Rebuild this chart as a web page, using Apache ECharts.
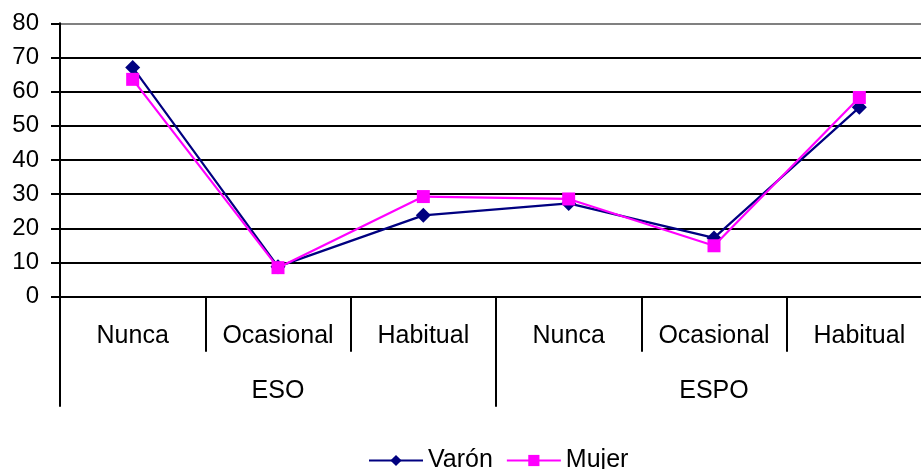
<!DOCTYPE html>
<html>
<head>
<meta charset="utf-8">
<script src="https://cdn.jsdelivr.net/npm/echarts@6/dist/echarts.min.js"></script>
<style>
  html, body { margin: 0; padding: 0; background: #fff; overflow: hidden; }
  /* plot area runs slightly past the right edge of the window */
  #chart { width: 940px; height: 469px; }
</style>
</head>
<body>
<div id="chart"></div>
<script>
// Frequency categories, grouped by school level
const categories = ['Nunca', 'Ocasional', 'Habitual', 'Nunca', 'Ocasional', 'Habitual'];
const groups = ['ESO', 'ESPO'];
const yTicks = [0, 10, 20, 30, 40, 50, 60, 70, 80];

// Percentages by sex
const varon = [67.1, 8.8, 23.8, 27.3, 17.2, 55.4];
const mujer = [63.6, 8.5, 29.3, 28.6, 14.9, 58.3];

const FONT = '"Liberation Sans", Arial, sans-serif';
const chart = echarts.init(document.getElementById('chart'), null, { renderer: 'canvas' });

// One colour per horizontal gridline, from 0 up to 80 (top border is grey)
const gridColors = yTicks.map((v, i) => (i === yTicks.length - 1 ? '#808080' : '#000000'));

chart.setOption({
  animation: false,
  backgroundColor: '#ffffff',
  grid: { left: 60, top: 23.3, width: 872, height: 273.4, containLabel: false },
  legend: {
    data: ['Varón', 'Mujer'],
    left: 363,
    top: 443,
    itemWidth: 54,
    itemHeight: 14,
    itemGap: 13,
    textStyle: { fontFamily: FONT, fontSize: 25, color: '#000' }
  },
  xAxis: [
    {
      type: 'category',
      data: categories,
      position: 'bottom',
      boundaryGap: true,
      axisLine: { show: true, lineStyle: { color: '#000', width: 2 } },
      axisTick: { show: true, interval: 0, length: 55, lineStyle: { color: '#000', width: 2 } },
      axisLabel: { interval: 0, margin: 27, fontFamily: FONT, fontSize: 25, color: '#000' },
      splitLine: { show: false }
    },
    {
      type: 'category',
      data: groups,
      position: 'bottom',
      boundaryGap: true,
      axisLine: { show: false },
      axisTick: { show: true, interval: 0, length: 110, lineStyle: { color: '#000', width: 2 } },
      axisLabel: { interval: 0, margin: 82, fontFamily: FONT, fontSize: 25, color: '#000' },
      splitLine: { show: false }
    }
  ],
  yAxis: {
    type: 'value',
    min: 0,
    max: 80,
    interval: 10,
    axisLine: { show: true, lineStyle: { color: '#000', width: 2 } },
    axisTick: { show: true, length: 9, lineStyle: { color: '#000', width: 2 } },
    axisLabel: { margin: 21, fontFamily: FONT, fontSize: 24, color: '#000' },
    splitLine: { show: true, lineStyle: { color: gridColors, width: 2 } }
  },
  series: [
    {
      name: 'Varón',
      type: 'line',
      xAxisIndex: 0,
      data: varon,
      symbol: 'diamond',
      symbolSize: 15,
      color: '#000080',
      lineStyle: { color: '#000080', width: 2.2 },
      itemStyle: { color: '#000080' },
      z: 3
    },
    {
      name: 'Mujer',
      type: 'line',
      xAxisIndex: 0,
      data: mujer,
      symbol: 'rect',
      symbolSize: 13,
      color: '#ff00ff',
      lineStyle: { color: '#ff00ff', width: 2.2 },
      itemStyle: { color: '#ff00ff' },
      z: 4
    }
  ]
});
</script>
</body>
</html>
